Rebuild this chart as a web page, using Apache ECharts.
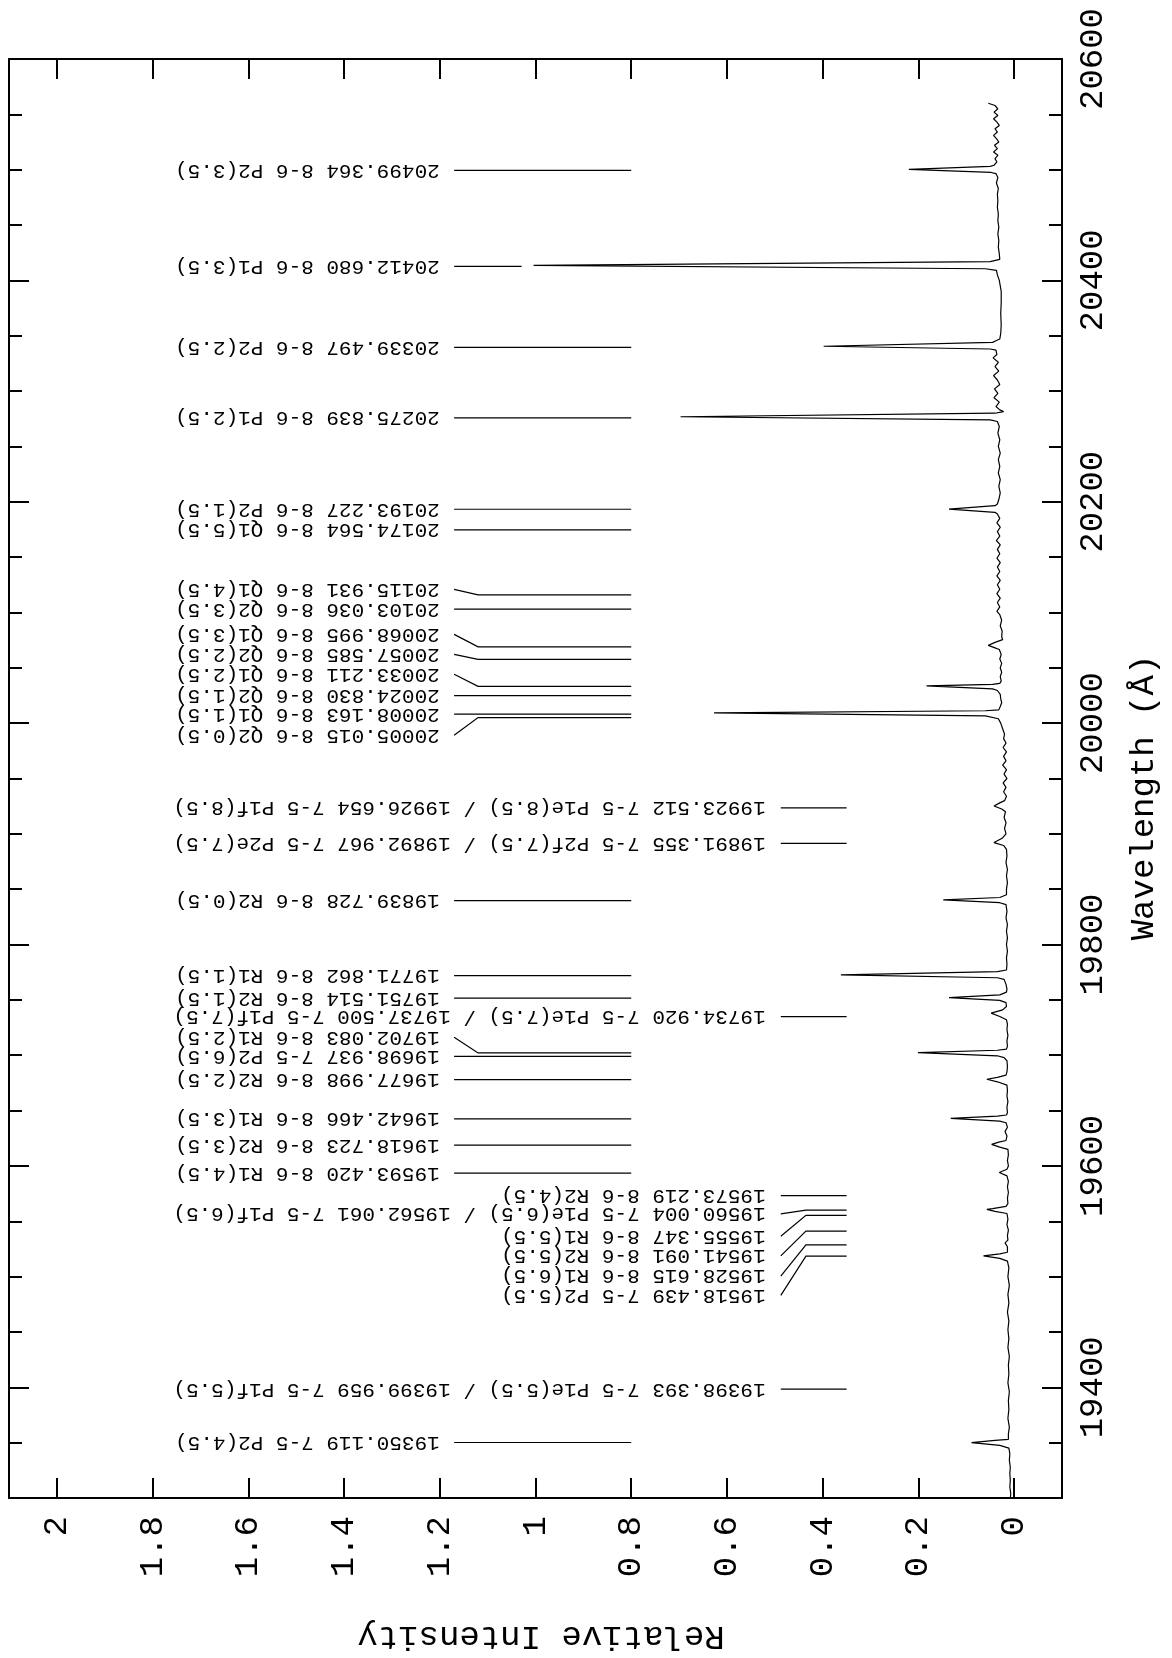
<!DOCTYPE html>
<html>
<head>
<meta charset="utf-8">
<script src="https://cdn.jsdelivr.net/npm/echarts@6.0.0/dist/echarts.min.js"></script>
<style>
html,body{margin:0;padding:0;background:#fff;}
#chart{width:1172px;height:1658px;}
</style>
</head>
<body>
<div id="chart"></div>
<script>
// ---- Data ----
// Spectrum: [wavelength (Å), relative intensity]
const spectrum = [
[20560,0.054],[20558,0.040],[20555,0.034],[20552,0.042],[20549,0.034],[20546,0.043],[20543,0.036],[20540,0.031],
[20537,0.040],[20534,0.035],[20531,0.043],[20528,0.037],[20525,0.032],[20522,0.041],[20519,0.035],[20516,0.043],
[20513,0.034],[20510,0.040],[20507,0.036],[20504,0.042],
[20503,0.050],[20500.2,0.220],[20497.5,0.048],[20496.5,0.038],
[20493,0.034],[20488,0.037],[20483,0.033],[20478,0.035],[20472,0.034],[20466,0.035],[20460,0.033],[20454,0.034],
[20448,0.032],[20442,0.034],[20436,0.032],[20430,0.033],[20424,0.031],[20419,0.030],[20418.3,0.026],
[20417,0.050],[20413.5,1.004],[20410.5,0.060],[20409,0.037],
[20405,0.035],[20400,0.031],[20395,0.029],[20390,0.027],[20380,0.027],[20370,0.028],[20360,0.027],[20352,0.028],
[20347,0.030],[20345.5,0.038],
[20344,0.045],[20340.5,0.398],[20338,0.050],[20337,0.038],
[20333,0.036],[20330,0.044],[20326,0.033],[20322,0.040],[20318,0.032],[20314,0.043],[20310,0.035],[20306,0.030],
[20302,0.041],[20298,0.034],[20294,0.042],[20290,0.031],[20286,0.038],[20283,0.030],[20281.5,0.022],
[20280,0.040],[20276.8,0.697],[20274,0.050],[20272.5,0.035],
[20268,0.031],[20262,0.034],[20256,0.030],[20250,0.033],[20244,0.029],[20238,0.033],[20232,0.030],[20226,0.033],
[20220,0.029],[20214,0.032],[20208,0.029],[20202,0.032],[20198,0.035],
[20196.5,0.040],[20193.4,0.136],[20190.5,0.040],[20189,0.035],
[20185,0.030],[20181,0.036],[20177,0.029],[20173,0.035],[20169,0.030],[20165,0.037],[20161,0.029],[20157,0.035],
[20153,0.030],[20149,0.036],[20145,0.029],[20141,0.035],[20137,0.030],[20133,0.036],[20129,0.029],[20125,0.035],
[20121,0.030],[20117,0.036],[20113,0.029],[20109,0.035],[20105,0.030],[20101,0.036],[20098,0.030],[20093,0.026],
[20088,0.029],[20083,0.025],[20078,0.026],[20075.5,0.024],
[20073,0.040],[20070.3,0.054],[20068,0.040],[20066.5,0.031],
[20062,0.027],[20058,0.030],[20054,0.026],[20050,0.029],[20046,0.026],[20042,0.029],[20038,0.027],[20036,0.030],
[20035,0.045],[20033.6,0.183],[20031,0.045],[20029.5,0.035],
[20026,0.029],[20022,0.028],[20018.5,0.026],[20015,0.029],[20012,0.032],
[20011.2,0.060],[20009.3,0.627],[20006.5,0.060],[20004,0.033],
[20000,0.028],[19995,0.024],[19990,0.020],[19986,0.022],[19982,0.017],[19978,0.023],[19974,0.016],[19970,0.022],
[19966,0.017],[19962,0.024],[19958,0.016],[19954,0.021],[19950,0.015],[19946,0.023],[19942,0.017],[19938,0.022],
[19934,0.016],[19930,0.020],
[19928,0.030],[19925.2,0.042],[19922.5,0.026],[19920,0.018],
[19915,0.021],[19910,0.017],[19905,0.020],[19900,0.017],[19896,0.025],
[19892.1,0.042],[19889.5,0.022],[19886,0.016],
[19880,0.015],[19874,0.017],[19868,0.014],[19862,0.016],[19856,0.014],[19850,0.016],[19845,0.016],
[19842.5,0.030],[19840.3,0.148],[19837.8,0.030],[19836,0.017],
[19830,0.015],[19824,0.017],[19818,0.014],[19812,0.016],[19806,0.014],[19800,0.016],[19794,0.014],[19788,0.016],
[19782,0.015],[19777,0.016],
[19775.5,0.035],[19772.6,0.362],[19770,0.035],[19768.5,0.021],[19764,0.017],[19760,0.015],[19757,0.016],
[19754.5,0.030],[19752,0.136],[19749.5,0.030],[19747.5,0.017],[19744,0.016],[19741,0.024],
[19738,0.048],[19735,0.030],[19732,0.016],
[19728,0.014],[19723,0.015],[19718,0.013],[19713,0.015],[19708,0.014],[19705.5,0.016],
[19704.5,0.035],[19702.4,0.201],[19699.5,0.035],[19697.8,0.021],[19695,0.015],[19690,0.014],[19685,0.015],[19682,0.017],
[19680,0.035],[19678.3,0.057],[19676,0.035],[19673,0.015],
[19668,0.014],[19663,0.015],[19658,0.013],[19653,0.015],[19648,0.014],[19646,0.016],
[19645,0.035],[19643,0.1325],[19640.5,0.030],[19639,0.017],[19635,0.014],[19631,0.019],[19627,0.015],[19623,0.017],
[19621.5,0.032],[19619.5,0.047],[19617,0.030],[19615,0.013],
[19610,0.012],[19605,0.014],[19600,0.012],[19597,0.015],
[19594,0.031],[19591,0.015],
[19586,0.012],[19581,0.014],[19576,0.012],[19571,0.014],[19566,0.013],[19563.5,0.017],
[19561.5,0.045],[19560.8,0.057],[19559,0.040],[19557,0.015],
[19552,0.013],[19547,0.015],[19542,0.012],[19537,0.014],[19533,0.013],[19530.5,0.019],[19529,0.021],[19527,0.014],
[19522,0.014],[19520.5,0.030],
[19518.7,0.064],[19516.5,0.030],[19514,0.014],
[19508,0.011],[19500,0.013],[19492,0.010],[19484,0.013],[19476,0.011],[19468,0.014],[19460,0.011],[19452,0.013],
[19444,0.011],[19436,0.013],[19428,0.010],[19420,0.012],[19412,0.011],[19404,0.013],[19396,0.010],[19388,0.012],
[19380,0.011],[19372,0.013],[19364,0.010],[19358,0.012],[19353,0.012],
[19352,0.040],[19350.1,0.089],[19347.5,0.030],[19345,0.011],
[19340,0.009],[19334,0.010],[19328,0.008],[19322,0.009],[19316,0.008],[19310,0.009],[19304,0.007],[19300,0.008]
];

// Line identifications
const annText = [
"20499.364 8-6 P2(3.5)",
"20412.680 8-6 P1(3.5)",
"20339.497 8-6 P2(2.5)",
"20275.839 8-6 P1(2.5)",
"20193.227 8-6 P2(1.5)",
"20174.564 8-6 Q1(5.5)",
"20115.931 8-6 Q1(4.5)",
"20103.036 8-6 Q2(3.5)",
"20068.995 8-6 Q1(3.5)",
"20057.585 8-6 Q2(2.5)",
"20033.211 8-6 Q1(2.5)",
"20024.830 8-6 Q2(1.5)",
"20008.163 8-6 Q1(1.5)",
"20005.015 8-6 Q2(0.5)",
"19923.512 7-5 P1e(8.5) / 19926.654 7-5 P1f(8.5)",
"19891.355 7-5 P2f(7.5) / 19892.967 7-5 P2e(7.5)",
"19839.728 8-6 R2(0.5)",
"19771.862 8-6 R1(1.5)",
"19751.514 8-6 R2(1.5)",
"19734.920 7-5 P1e(7.5) / 19737.500 7-5 P1f(7.5)",
"19702.083 8-6 R1(2.5)",
"19698.937 7-5 P2(6.5)",
"19677.998 8-6 R2(2.5)",
"19642.466 8-6 R1(3.5)",
"19618.723 8-6 R2(3.5)",
"19593.420 8-6 R1(4.5)",
"19573.219 8-6 R2(4.5)",
"19560.004 7-5 P1e(6.5) / 19562.061 7-5 P1f(6.5)",
"19555.347 8-6 R1(5.5)",
"19541.091 8-6 R2(5.5)",
"19528.615 8-6 R1(6.5)",
"19518.439 7-5 P2(5.5)",
"19398.393 7-5 P1e(5.5) / 19399.959 7-5 P1f(5.5)",
"19350.119 7-5 P2(4.5)"
];
// wavelength where each marker line points
const annWave = [20499.364,20412.680,20339.497,20275.839,20193.227,20174.564,20115.931,20103.036,20068.995,20057.585,
20033.211,20024.830,20008.163,20005.015,19923.512,19891.355,19839.728,19771.862,19751.514,19734.920,
19702.083,19698.937,19677.998,19642.466,19618.723,19593.420,19573.219,19560.004,19555.347,19541.091,
19528.615,19518.439,19398.393,19350.119];
// wavelength at which each text label sits (differs from the line where labels were spread apart)
const annLabelWave = [20499.364,20412.680,20339.497,20275.839,20193.227,20174.564,20120.9,20103.036,20080.2,20062.1,
20044.1,20024.830,20008.163,19989.0,19923.512,19891.355,19839.728,19771.862,19751.514,19734.920,
19716.2,19698.937,19677.998,19642.466,19618.723,19593.420,19573.219,19556.7,19536.4,19518.8,
19500.5,19483.1,19398.393,19350.119];
// 0 = long column of labels, 1 = short column of labels
const annTier = [0,0,0,0,0,0,0,0,0,0,0,0,0,0,1,1,0,0,0,1,0,0,0,0,0,0,1,1,1,1,1,1,1,0];

// ---- Layout constants (intensity units along the horizontal axis) ----
const TIER = [
  {start: 0.80, bend: 1.12, end: 1.17, text: 1.20},
  {start: 0.35, bend: 0.435, end: 0.4875, text: 0.519}
];
function localPeak(w) {
  let m = 0;
  for (const p of spectrum) if (Math.abs(p[0] - w) <= 3) m = Math.max(m, p[1]);
  return m;
}

const FONT = 'Liberation Mono';
const axisCommon = {
  axisLine: {show: true, onZero: false, lineStyle: {color: '#000', width: 2}},
  axisTick: {show: true, inside: true, length: 20, lineStyle: {color: '#000', width: 2}},
  splitLine: {show: false}
};

const chart = echarts.init(document.getElementById('chart'), null, {renderer: 'canvas'});
chart.setOption({
  animation: false,
  backgroundColor: '#fff',
  grid: {left: 9, right: 110, top: 59, bottom: 160, containLabel: false},
  xAxis: [
    Object.assign({
      type: 'value', min: -0.1, max: 2.1, splitNumber: 11, inverse: true, position: 'bottom',
      axisLabel: {show: true, rotate: 90, margin: 18, fontFamily: FONT, fontSize: 34, color: '#000',
        showMinLabel: false, showMaxLabel: false, formatter: v => String(+v.toFixed(1))},
      name: 'Relative Intensity', nameLocation: 'middle', nameRotate: 180, nameGap: 121,
      nameTextStyle: {fontFamily: FONT, fontSize: 34, color: '#000', padding: [0, 11, 0, 0]}
    }, axisCommon),
    Object.assign({
      type: 'value', min: -0.1, max: 2.1, splitNumber: 11, inverse: true, position: 'top',
      axisLabel: {show: false}
    }, axisCommon)
  ],
  yAxis: [
    Object.assign({
      type: 'value', min: 19300, max: 20600, splitNumber: 6, position: 'right',
      minorTick: {show: true, splitNumber: 4, length: 13, lineStyle: {color: '#000', width: 2}},
      axisLabel: {show: true, rotate: 90, margin: 14, fontFamily: FONT, fontSize: 34, color: '#000',
        showMinLabel: false, formatter: v => String(Math.round(v))},
      name: 'Wavelength (Å)', nameLocation: 'middle', nameRotate: 90, nameGap: 65,
      nameTextStyle: {fontFamily: FONT, fontSize: 34, color: '#000', padding: [0, 38, 0, 0]}
    }, axisCommon),
    Object.assign({
      type: 'value', min: 19300, max: 20600, splitNumber: 6, position: 'left',
      minorTick: {show: true, splitNumber: 4, length: 13, lineStyle: {color: '#000', width: 2}},
      axisLabel: {show: false}
    }, axisCommon)
  ],
  series: [
    {
      type: 'line', xAxisIndex: 0, yAxisIndex: 0,
      data: spectrum.map(p => [p[1], p[0]]),
      showSymbol: false, symbol: 'none', smooth: false,
      lineStyle: {color: '#000', width: 1.2},
      silent: true
    },
    {
      type: 'custom', xAxisIndex: 0, yAxisIndex: 0, silent: true, clip: false,
      data: annWave.map(w => [0.8, w]),
      encode: {x: 0, y: 1},
      renderItem: function (params, api) {
        const i = params.dataIndex;
        const L = TIER[annTier[i]];
        const w = annWave[i], lw = annLabelWave[i];
        const start = Math.max(L.start, localPeak(w) + 0.025);
        const p0 = api.coord([start, w]);
        const p1 = api.coord([L.bend, w]);
        const p2 = api.coord([L.end, lw]);
        const pt = api.coord([L.text, lw]);
        return {
          type: 'group',
          children: [
            {type: 'polyline', shape: {points: [p0, p1, p2]},
             style: {stroke: '#000', lineWidth: 1.2, fill: null}},
            {type: 'text', x: pt[0], y: pt[1], rotation: Math.PI,
             style: {text: annText[i], fill: '#000', fontFamily: FONT, fontSize: 21,
                     align: 'left', verticalAlign: 'middle'}}
          ]
        };
      }
    }
  ]
});
</script>
</body>
</html>
